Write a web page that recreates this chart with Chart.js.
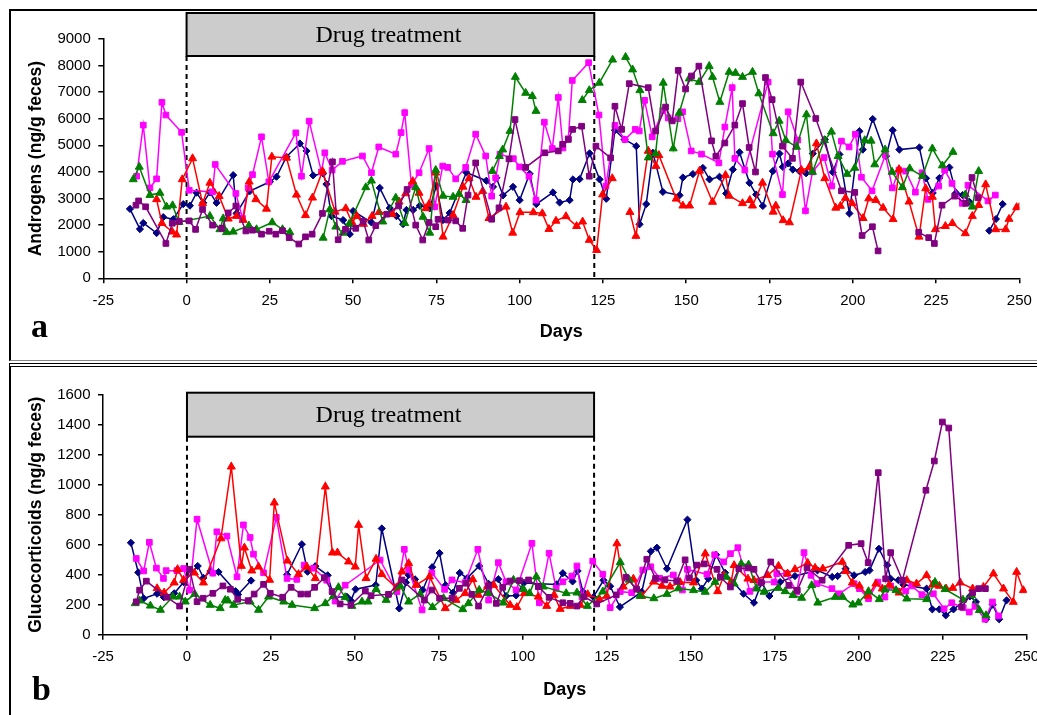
<!DOCTYPE html>
<html>
<head>
<meta charset="utf-8">
<script src="https://cdn.jsdelivr.net/npm/chart.js@4/dist/chart.umd.min.js"></script>
<style>
  html, body { margin: 0; padding: 0; background: #fff; width: 1037px; height: 715px; overflow: hidden; }
  canvas { position: absolute; left: 0; }
  #ca { top: 0; }
  #cb { top: 362px; }
  .frame { position: absolute; box-sizing: border-box; pointer-events: none; }
  #fa { left: 9px; top: 9px; width: 1100px; height: 352px; border-left: 2px solid #000; border-top: 2px solid #000; border-bottom: 1px solid #888; }
  #fb { left: 9px; top: 363px; width: 1100px; height: 400px; border-left: 2px solid #000; border-top: 4px double #000; }
</style>
</head>
<body>
<canvas id="ca" width="1037" height="362"></canvas>
<canvas id="cb" width="1037" height="353"></canvas>
<div class="frame" id="fa"></div>
<div class="frame" id="fb"></div>
<script>
// Faecal androgen concentrations (ng/g feces) by day, one list per animal: [day, value]
const andNavy = [[-17,2610],[-14,1850],[-13,2080],[-9,1700],[-7,2300],[-4,2220],[-1,2790],[1,2730],[3,3220],[5,2840],[7,3230],[9,2840],[14,3880],[15,2440],[19,3280],[25,3630],[27,3820],[30,4570],[34,5070],[36,4790],[38,3870],[41,3940],[42,3540],[43.5,2340],[47,2190],[49,1660],[50,2530],[55.5,2100],[58,3400],[61,2640],[63,2340],[65,2040],[66,2570],[68,2570],[70,2730],[73,2630],[75,3490],[77,2190],[79,2460],[84,3980],[90,3670],[92,3440],[93,3780],[95,3120],[98,3440],[100,2940],[103,3930],[105,2790],[110,3230],[112,2850],[115,2940],[116,3720],[118,3730],[121,4700],[124,3720],[126,2990],[128.6,5570],[131.5,5220],[135,4970],[136,2030],[138,2790],[140,4720],[143,3250],[148,3120],[149,3790],[152,3920],[155,4150],[157,3720],[160,3820],[162,3190],[164,4090],[166,4740],[169,3590],[171,3150],[173,2720],[176,4030],[178,4690],[179,4190],[180.6,4320],[182,4090],[184,4030],[186,3950],[188,4690],[191.6,5220],[194,3990],[196,4660],[199,2440],[202,5530],[203,4840],[206,5990],[210,4590],[212,5570],[214,4840],[220,4920],[222,3760],[224,3210],[226,3770],[229,4170],[231,3210],[233,3130],[235,2880],[238,null],[241,1790],[243,2230],[245,2790]];
const andPink = [[-15,3840],[-13,5760],[-11,3400],[-9,3740],[-7.4,6620],[-6.2,6140],[-1.5,5490],[0.8,3310],[7.8,3250],[8.6,4280],[14.8,3190],[16.8,2250],[18.5,3400],[19.8,3900],[22.5,5320],[24.7,3630],[32.8,5470],[34.5,3840],[36.8,5910],[40.5,4000],[41.5,4720],[43.7,4070],[46.8,4400],[52.8,4600],[55.5,3970],[57.7,4940],[62.8,4670],[64.4,5480],[65.5,6230],[67.5,3500],[69.8,3970],[72.8,4880],[74.5,2690],[76.9,4220],[78.4,4170],[80.8,3740],[83.8,4170],[86.8,5420],[89.8,4600],[91.6,3090],[92.8,3780],[94.1,4670],[98.1,4500],[100,4190],[102.8,3840],[104.9,2940],[107.4,5870],[109.8,4880],[111.6,6800],[113,4900],[114.6,5250],[115.8,7440],[120.7,8110],[123.8,6140],[125.9,3470],[128.6,5750],[131.6,5220],[134.7,5600],[135.9,5540],[137.5,6690],[139.8,5320],[143,6310],[144.6,6030],[147.5,6000],[148.9,6260],[151.5,4790],[154.6,4670],[159.8,4340],[161.6,5690],[163.8,7170],[164.6,4510],[167.6,4070],[174.6,7380],[175.9,4670],[178.9,3150],[180.6,6260],[183.5,5200],[185.8,2540],[187.9,4000],[191.4,4540],[193.7,3470],[196.6,5160],[198.9,4940],[200.8,5420],[202.6,3800],[205.8,3290],[209.8,4630],[211.9,3400],[213.9,4070],[215.9,4030],[218.8,3240],[220.8,3970],[222.6,2970],[225.8,3470],[227.6,4070],[229.8,3570],[232.9,2820],[234.6,3500],[240.6,2910],[242.8,3130]];
const andRed = [[-9,2970],[-7.4,2070],[-4.3,1750],[-3,1640],[-1.3,3720],[1.8,4510],[4.8,2820],[7,3590],[9.8,3090],[12.5,2240],[15,2340],[17,2190],[18.8,3630],[20.8,2970],[24,2610],[25.6,4570],[30,4530],[33,3140],[35.7,2370],[37.8,3030],[40.8,4030],[44.6,2500],[47.8,2630],[49.7,2090],[51.1,2340],[53.1,2040],[55.7,2340],[57.8,2490],[61.8,2410],[63.8,2880],[65.8,3190],[67.9,3650],[69.8,3210],[71.8,2630],[72.8,2790],[74.8,3970],[77,1560],[80,2380],[83,3440],[84.8,3760],[86.9,3060],[88.9,3280],[90.8,2260],[95.9,2690],[97.9,1710],[100.1,2480],[104.1,2480],[106.8,2440],[108.8,1850],[110.9,2160],[113.9,2330],[117.1,1960],[118.9,2130],[120.9,1440],[123.1,1060],[124.9,3150],[127.8,3760],[130,null],[133.1,2490],[134.9,1590],[138.6,4790],[140.9,4220],[141.8,4630],[147,2990],[149,2730],[151,2730],[154,4040],[157.9,2870],[161.8,3880],[162.9,3100],[166.9,2820],[169.1,2940],[169.9,2730],[172.9,3590],[176.1,2500],[176.9,2730],[179.1,2180],[181,2100],[184.6,4070],[186.9,4170],[189.1,5070],[191.6,3760],[194.9,2650],[196.3,2720],[197.8,3020],[199.8,2820],[203.1,2260],[204.8,3000],[206.9,2940],[209.1,2650],[212.1,2220],[213.9,4100],[216.9,2880],[219.9,1560],[221.9,3380],[223.9,3060],[224.8,1840],[227.8,1960],[229.9,2070],[233.8,1690],[235.9,2340],[237.8,2750],[239.9,3530],[242.9,1840],[245.9,1840],[246.9,2230],[249.2,2670],[250,2670]];
const andGreen = [[-16,3720],[-14.2,4190],[-11,3130],[-8,3210],[-6,2690],[-4.2,2740],[-2.3,2110],[7,2340],[10,1840],[11,2250],[12,1730],[14,1750],[18.7,1980],[21,1840],[25.7,2100],[28.8,1840],[31,1730],[35,null],[41,1520],[43,2590],[44.8,1940],[47,1710],[48.8,2040],[53.8,3420],[55.5,3670],[58.9,2130],[62.8,3030],[65.5,2070],[68.8,3420],[71,2310],[73,1710],[74.8,4070],[77,3100],[80,3060],[81.8,3170],[83.9,2940],[88,null],[91.8,4030],[93.9,4590],[94.9,4840],[97.1,5540],[98.7,7570],[101.8,6970],[103.8,6850],[104.9,6290],[112,null],[118.8,6700],[120.9,7070],[123.9,7350],[127.9,8220],[130,null],[131.8,8320],[133.9,7850],[136.1,7070],[138.6,4540],[140.8,4690],[143.1,7350],[146.1,4880],[147.9,6220],[150.9,7510],[153.9,7380],[156.9,7980],[157.9,7570],[160.1,6630],[162.9,7760],[164.8,7720],[166.9,7570],[169.9,7760],[171.8,6950],[176.1,5450],[177.9,5920],[179.9,5190],[183.1,4940],[186.1,6160],[187.9,4000],[191.5,5190],[193.6,5510],[195.6,4590],[198.3,3920],[200.6,4150],[203.6,5190],[205.5,5170],[206.6,4280],[209.7,4840],[211.8,4000],[214.9,3420],[217.1,4130],[220.9,3840],[223.9,4880],[226.9,4240],[230.1,4750],[232,null],[233.8,3150],[235.9,2690],[237.8,4030]];
const andPurple = [[-15.2,2750],[-14.4,2910],[-12.3,2690],[-6.2,1310],[-4.3,2070],[-2.2,2140],[0.8,2160],[2.7,1840],[4.8,2590],[7.8,2000],[10.6,1880],[12.5,2460],[14.8,2720],[17.8,1780],[19.8,1810],[22.5,1660],[24.8,1770],[26.8,1660],[28.8,1790],[30.8,1530],[33.7,1290],[35.7,1560],[37.7,1660],[40.8,2440],[43.8,4380],[45.5,1450],[47.7,1840],[50.8,1880],[53,2140],[54.7,1440],[56.8,1980],[60.1,2410],[63.7,2720],[66.2,3340],[68.8,2000],[70.9,1440],[72.8,2100],[74.8,1940],[75.5,2220],[78.5,2190],[80.8,2160],[82.9,1880],[84.5,3130],[86.8,4340],[91.6,2220],[93.8,2650],[96.8,4490],[98.6,5970],[101.8,4170],[107.6,4720],[111.6,4790],[112.9,5040],[114.6,5220],[115.9,5600],[118.6,5720],[120.9,3840],[122.9,4970],[127.3,4530],[128.6,6470],[130.6,5600],[132.9,7320],[138.6,7170],[140.8,5540],[143.8,6440],[145.8,5920],[147.6,7820],[149.8,7120],[151.6,7610],[153.8,7980],[157.6,5170],[158.9,4590],[161.6,5090],[164.6,5760],[166.9,6570],[168.9,4920],[170.8,4000],[173.8,7550],[175.8,6720],[178.9,4970],[181.9,4510],[184.4,7380],[188.9,6010],[196.6,3290],[200.6,3230],[202.8,1610],[205.9,1940],[207.6,1030],[212,null],[219.8,1730],[222.8,1530],[224.5,1310],[226.8,2750],[230.6,3090],[233.9,2820],[235.8,3790],[237.6,3030]];

// Faecal glucocorticoid concentrations (ng/g feces) by day, same animals
const gcNavy = [[-16.7,613],[-14.5,415],[-12.9,242],[-8.9,273],[-6.9,250],[-3.8,276],[-1,350],[3.2,458],[4.9,379],[7,424],[9.4,418],[14.5,290],[15.2,268],[19.1,361],[24,null],[29.8,400],[34.2,603],[35.9,420],[38.2,457],[41.9,396],[43.7,250],[47.6,253],[48.8,227],[50.2,303],[56.2,331],[58,708],[63.2,175],[65.2,348],[66,398],[67.9,369],[70.2,298],[73,450],[75.2,544],[77,330],[79.2,280],[81.2,412],[83.4,377],[87,458],[89.8,339],[92.7,370],[95,258],[98,262],[100.3,345],[110,335],[111.9,410],[114.8,355],[116.3,425],[117.9,286],[121,251],[124,363],[126,323],[128.9,185],[135.4,285],[138.1,556],[139.9,580],[142.9,440],[149,767],[151.6,363],[153.3,307],[155.2,373],[157.5,533],[160.2,413],[165.7,273],[168.8,213],[171.1,347],[173.4,258],[176.6,351],[181,391],[187.7,429],[192.1,385],[193.7,391],[196.1,440],[198.6,396],[201.9,418],[203.2,429],[206,573],[208.5,463],[209.5,373],[211.8,363],[213.3,333],[220.2,307],[221.9,169],[224,169],[225.9,129],[228.2,169],[233.1,256],[234.9,218],[237.9,103],[239.9,200],[241.8,103],[244,229]];
const gcPink = [[-15.1,508],[-12.9,425],[-11.2,616],[-9.1,444],[-7,375],[-6.2,427],[-3,427],[-1,441],[0.8,297],[3,770],[7.7,410],[8.9,686],[11.9,657],[14.9,386],[16.8,732],[18.8,648],[19.8,537],[22.8,413],[26.6,782],[29.8,375],[32.7,369],[34.9,464],[37.7,443],[41.6,363],[44.1,224],[47.1,330],[57.5,498],[62.5,287],[64.7,569],[66,434],[70,165],[72.9,413],[76.7,302],[78.9,365],[82.8,347],[86.6,569],[89.8,231],[92.7,480],[95,353],[98,298],[102.7,609],[104.9,213],[107.8,543],[109.9,309],[111.9,353],[114.6,391],[116.1,458],[117.6,253],[120.8,491],[123.8,403],[126,180],[129,287],[132.4,280],[135.7,431],[138.1,453],[140.7,376],[144.8,398],[147.5,298],[149,435],[154.8,403],[157.1,533],[159.8,485],[161.8,540],[164,580],[167.6,289],[170.4,351],[174.8,351],[175.6,407],[178.5,407],[181.5,285],[183.7,547],[185.8,396],[187.5,340],[192,307],[194.2,273],[198.6,340],[200.2,307],[202.9,240],[205.7,351],[207.8,251],[209.5,325],[214,291],[215.8,325],[218.8,267],[222.2,273],[225.4,173],[227.7,213],[231.1,180],[232.9,151],[234.6,189],[237.6,103],[239.8,218],[241.6,125]];
const gcRed = [[-8.9,309],[-6.8,280],[-3.8,347],[-2.8,436],[-1,365],[2.2,413],[4.9,347],[10.1,641],[13.2,1120],[16.2,458],[17.1,580],[19.3,427],[21.3,453],[24.6,365],[26,880],[29.9,493],[33.2,403],[35.7,453],[38.2,376],[41.2,987],[43.3,547],[44.8,547],[48.1,487],[50.1,453],[51.1,731],[53.3,376],[56.3,505],[58,403],[62.3,313],[64,420],[66,476],[68.2,331],[72.2,387],[76.9,176],[80.1,231],[82.8,276],[85.1,369],[86.8,265],[89.5,325],[91.3,331],[96.2,198],[98.2,183],[100.4,276],[104.6,253],[107.1,191],[109.3,265],[111.1,171],[114.1,191],[117.1,198],[119.3,269],[122.8,236],[125,258],[128,608],[129.9,320],[132.9,372],[135.4,258],[138.9,353],[141.4,325],[143.8,320],[146.8,350],[150.8,347],[154.3,541],[158,289],[159.9,396],[162,351],[162.9,463],[167,373],[168.8,363],[172.9,396],[176.1,458],[178.8,407],[181,436],[184.8,478],[187,445],[189.3,440],[195.1,485],[196.1,423],[198.1,347],[200.2,325],[202.7,258],[205.1,340],[207,307],[209.1,333],[212,280],[214.3,363],[217.2,340],[220.2,396],[222,333],[224,325],[226,307],[228,311],[230.2,347],[233.9,307],[237.1,318],[240.1,407],[243.1,307],[246,218],[247,418],[249,296]];
const gcGreen = [[-15.4,209],[-14.1,227],[-10.9,193],[-7.9,165],[-4.2,253],[-2.2,253],[-0.5,220],[2.3,271],[6.9,198],[9.9,176],[11.4,231],[12.2,227],[13.9,198],[18.8,220],[21.3,165],[24.3,253],[28.8,220],[31.3,198],[38,176],[41.2,209],[43.6,258],[45.1,316],[47.1,249],[49.1,191],[52.1,220],[53.9,220],[56.3,303],[59.3,231],[63.5,325],[66,220],[69.4,271],[73.1,183],[76.4,243],[82.1,169],[83.8,209],[87,298],[89.8,276],[94.2,213],[97.2,365],[100.2,303],[102,276],[104,387],[106.1,320],[112.9,276],[116.1,280],[119.2,191],[123.8,287],[129,483],[131.7,365],[134.9,258],[139,242],[142.9,271],[146.3,308],[150.8,296],[154.3,285],[157.2,351],[160.5,385],[162.9,340],[165,473],[167.2,467],[169.6,307],[171.8,285],[176.1,311],[178.1,289],[180.4,263],[183,245],[186,329],[187.8,213],[193,251],[195.2,251],[198.2,200],[199.9,213],[202.9,289],[206.1,236],[207.8,300],[211.1,296],[214.3,240],[220.2,236],[222.7,351],[225.7,303],[231,233],[233.6,263],[235.9,163],[237.9,129]];
const gcPurple = [[-15.1,219],[-14.1,297],[-12.1,357],[-6,250],[-2.2,191],[0.8,436],[3,220],[4.8,243],[7.7,276],[10.7,325],[12.9,303],[15.1,236],[18.2,227],[20,271],[22.8,336],[24.8,276],[28.5,250],[31,316],[33.9,271],[35.9,271],[38,316],[40.9,380],[43.2,287],[45.6,205],[48.8,198],[53.1,291],[54.8,260],[60,269],[64,365],[70.7,231],[72.9,298],[75.2,243],[78.9,243],[81.1,309],[83.1,343],[84.8,269],[86.8,191],[89.8,325],[92.1,209],[94,316],[96.2,358],[99,360],[101.7,365],[104.6,320],[107.8,249],[111.9,213],[114.1,209],[116.1,191],[118.2,253],[122,205],[127.8,265],[130.7,383],[133.9,303],[136.9,503],[139.5,375],[142.3,365],[145.8,358],[148.3,499],[149.6,378],[151.8,464],[154,472],[157.8,436],[158.8,385],[161.8,318],[164.3,440],[167,445],[168.8,436],[171,347],[173.8,485],[179.2,329],[181.7,296],[184.6,445],[189.1,363],[197,596],[200.7,607],[202.8,480],[205.8,1080],[208,373],[209.5,547],[213,363],[220,963],[222.5,1158],[224.9,1418],[226.8,1378],[230.6,185],[233.9,280],[235.7,307],[237.7,307]];

const SANS = '"Liberation Sans", Arial, sans-serif';
const SERIF = '"Liberation Serif", "Times New Roman", serif';

// Series look: colour and marker for each animal
const seriesStyle = [
  { color: '#800080', shape: 'rect', r: 4 },
  { color: '#008000', shape: 'triangle', r: 4.6 },
  { color: '#FF0000', shape: 'triangle', r: 4.6 },
  { color: '#FF00FF', shape: 'rect', r: 4 },
  { color: '#000080', shape: 'rectRot', r: 3.6 }
];

function toDatasets(lists) {
  return lists.map((pts, i) => {
    const s = seriesStyle[i];
    return {
      data: pts.map(([x, y]) => ({ x, y })),
      borderColor: s.color,
      backgroundColor: s.color,
      borderWidth: 1.5,
      pointStyle: s.shape,
      pointRadius: s.r,
      pointBorderWidth: 1,
      pointBackgroundColor: s.color,
      pointBorderColor: s.color,
      spanGaps: false,
      tension: 0
    };
  });
}

// Treatment bar, dashed start/end markers and the panel letter
const treatmentPlugin = {
  id: 'treatment',
  beforeDatasetsDraw(chart, args, o) {
    const { ctx, chartArea, scales: { x } } = chart;
    const x0 = x.getPixelForValue(o.start), x1 = x.getPixelForValue(o.end);
    ctx.save();
    ctx.strokeStyle = '#000';
    ctx.lineWidth = 2;
    ctx.setLineDash([5, 4]);
    [x0, x1].forEach(px => {
      ctx.beginPath();
      ctx.moveTo(px, o.boxBottom);
      ctx.lineTo(px, chartArea.bottom);
      ctx.stroke();
    });
    ctx.restore();
  },
  afterDraw(chart, args, o) {
    const { ctx, scales: { x } } = chart;
    const x0 = x.getPixelForValue(o.start), x1 = x.getPixelForValue(o.end);
    ctx.save();
    ctx.fillStyle = '#cccccc';
    ctx.fillRect(x0, o.boxTop, x1 - x0, o.boxBottom - o.boxTop);
    ctx.strokeStyle = '#000';
    ctx.lineWidth = 2;
    ctx.strokeRect(x0, o.boxTop, x1 - x0, o.boxBottom - o.boxTop);
    ctx.fillStyle = '#000';
    ctx.font = '24px ' + SERIF;
    ctx.textAlign = 'center';
    ctx.textBaseline = 'middle';
    ctx.fillText(o.label, (x0 + x1) / 2 - 2, (o.boxTop + o.boxBottom) / 2 + 1);
    ctx.font = 'bold 34px ' + SERIF;
    ctx.textAlign = 'left';
    ctx.textBaseline = 'alphabetic';
    ctx.fillText(o.letter, o.letterX, o.letterY);
    ctx.restore();
  }
};

function makeChart(canvasId, lists, cfg) {
  return new Chart(document.getElementById(canvasId), {
    type: 'line',
    data: { datasets: toDatasets(lists) },
    plugins: [treatmentPlugin],
    options: {
      responsive: false,
      animation: false,
      devicePixelRatio: 1,
      layout: { padding: { left: 25.5, top: cfg.top, right: cfg.right, bottom: 0 } },
      plugins: {
        legend: { display: false },
        tooltip: { enabled: false },
        treatment: cfg.treatment
      },
      scales: {
        x: {
          type: 'linear',
          min: -25, max: 250,
          ticks: { stepSize: 25, color: '#000', font: { family: SANS, size: 15 }, padding: 8.5, maxRotation: 0, autoSkip: false },
          grid: { drawOnChartArea: false, drawTicks: true, tickLength: 5, color: '#000', lineWidth: 1.5 },
          border: { display: true, color: '#000', width: 1.5 },
          title: { display: true, text: 'Days', color: '#000', font: { family: SANS, size: 18, weight: 'bold' }, padding: { top: 0, bottom: cfg.daysPad } },
          afterFit(s) { s.height = cfg.xHeight; s.paddingLeft = 0; s.paddingRight = 0; }
        },
        y: {
          min: 0, max: cfg.yMax,
          ticks: { stepSize: cfg.yStep, color: '#000', font: { family: SANS, size: 15 }, padding: 7.5, callback: v => String(v) },
          grid: { drawOnChartArea: false, drawTicks: true, tickLength: 5, color: '#000', lineWidth: 1.5 },
          border: { display: true, color: '#000', width: 1.5 },
          title: { display: true, text: cfg.yTitle, color: '#000', font: { family: SANS, size: 17.5, weight: 'bold' }, padding: 0 },
          afterFit(s) { s.width = cfg.yWidth; s.paddingTop = 0; s.paddingBottom = 0; }
        }
      }
    }
  });
}

makeChart('ca', [andPurple, andGreen, andRed, andPink, andNavy], {
  top: 39, right: 17.7, xHeight: 83.7, daysPad: 19, yWidth: 77.8,
  yMax: 9000, yStep: 1000, yTitle: 'Androgens (ng/g feces)',
  treatment: { start: 0, end: 122.4, boxTop: 13, boxBottom: 56, label: 'Drug treatment', letter: 'a', letterX: 31, letterY: 337 }
});

makeChart('cb', [gcPurple, gcGreen, gcRed, gcPink, gcNavy], {
  top: 32.7, right: 10.3, xHeight: 80.3, daysPad: 14, yWidth: 77.5,
  yMax: 1600, yStep: 200, yTitle: 'Glucocorticoids (ng/g feces)',
  treatment: { start: 0, end: 121.2, boxTop: 30.7, boxBottom: 74.7, label: 'Drug treatment', letter: 'b', letterX: 32, letterY: 338 }
});
</script>
</body>
</html>
